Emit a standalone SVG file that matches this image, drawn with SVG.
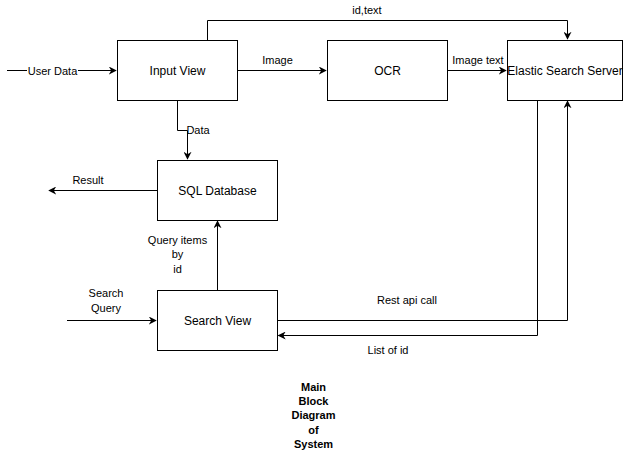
<svg xmlns="http://www.w3.org/2000/svg" width="628" height="451" viewBox="0 0 628 451">
  <style>
    .box { fill: #ffffff; stroke: #000000; stroke-width: 1; }
    .wire { fill: none; stroke: #000000; stroke-width: 1; }
    .lbl { font-family: "Liberation Sans", Arial, sans-serif; font-size: 12px; fill: #000000; text-anchor: middle; }
    .elbl { font-family: "Liberation Sans", Arial, sans-serif; font-size: 11px; fill: #000000; text-anchor: middle; }
    .title { font-family: "Liberation Sans", Arial, sans-serif; font-size: 11px; font-weight: bold; fill: #000000; text-anchor: middle; }
  </style>
  <defs>
    <marker id="arrow" viewBox="0 0 10 10" refX="9" refY="5" markerWidth="8" markerHeight="8" markerUnits="userSpaceOnUse" orient="auto">
      <path d="M0,0 L10,5 L0,10 L3,5 Z" fill="#000000"/>
    </marker>
  </defs>
  <rect width="628" height="451" fill="#ffffff"/>

  <g id="connectors">
    <!-- user data into input view -->
    <path class="wire" d="M7,70.5 H116" marker-end="url(#arrow)"/>
    <rect x="27" y="64" width="51" height="13" fill="#ffffff"/>
    <text class="elbl" x="52.5" y="74.5">User Data</text>
    <!-- image to OCR -->
    <path class="wire" d="M237.5,70.5 H326" marker-end="url(#arrow)"/>
    <text class="elbl" x="277.5" y="64">Image</text>
    <!-- OCR text to elastic -->
    <path class="wire" d="M447.5,70.5 H506" marker-end="url(#arrow)"/>
    <text class="elbl" x="478" y="64">Image text</text>
    <!-- id,text to elastic -->
    <path class="wire" d="M207.5,40 V20.5 H567.5 V39" marker-end="url(#arrow)"/>
    <text class="elbl" x="367" y="14">id,text</text>
    <!-- data to SQL -->
    <path class="wire" d="M177.5,100.5 V130.5 H187.5 V159" marker-end="url(#arrow)"/>
    <text class="elbl" x="198" y="134">Data</text>
    <!-- result out of SQL -->
    <path class="wire" d="M157,190.5 H49" marker-end="url(#arrow)"/>
    <text class="elbl" x="88" y="184">Result</text>
    <!-- query items by id -->
    <path class="wire" d="M217.5,290 V221" marker-end="url(#arrow)"/>
    <text class="elbl" x="177.5" y="244">Query items</text>
    <text class="elbl" x="177.5" y="258">by</text>
    <text class="elbl" x="177.5" y="273">id</text>
    <!-- search query into search view -->
    <path class="wire" d="M67,320.5 H156" marker-end="url(#arrow)"/>
    <text class="elbl" x="106" y="297">Search</text>
    <text class="elbl" x="106" y="312">Query</text>
    <!-- rest api call -->
    <path class="wire" d="M277.5,320.5 H567.5 V101" marker-end="url(#arrow)"/>
    <text class="elbl" x="407" y="304">Rest api call</text>
    <!-- list of id -->
    <path class="wire" d="M537.5,100.5 V335.5 H278.5" marker-end="url(#arrow)"/>
    <text class="elbl" x="388" y="354">List of id</text>
  </g>

  <g id="input-view">
    <rect class="box" x="117.5" y="40.5" width="120" height="60"/>
    <text class="lbl" x="177.5" y="74.5">Input View</text>
  </g>
  <g id="ocr">
    <rect class="box" x="327.5" y="40.5" width="120" height="60"/>
    <text class="lbl" x="387.5" y="74.5">OCR</text>
  </g>
  <g id="elastic-search-server">
    <rect class="box" x="507.5" y="40.5" width="115" height="60"/>
    <text class="lbl" x="565" y="74.5">Elastic Search Server</text>
  </g>
  <g id="sql-database">
    <rect class="box" x="157.5" y="160.5" width="120" height="60"/>
    <text class="lbl" x="217.5" y="194.5">SQL Database</text>
  </g>
  <g id="search-view">
    <rect class="box" x="157.5" y="290.5" width="120" height="60"/>
    <text class="lbl" x="217.5" y="324.5">Search View</text>
  </g>

  <g id="title">
    <text class="title" x="313.5" y="391">Main</text>
    <text class="title" x="313.5" y="405">Block</text>
    <text class="title" x="313.5" y="419">Diagram</text>
    <text class="title" x="313.5" y="434">of</text>
    <text class="title" x="313.5" y="448">System</text>
  </g>
</svg>
